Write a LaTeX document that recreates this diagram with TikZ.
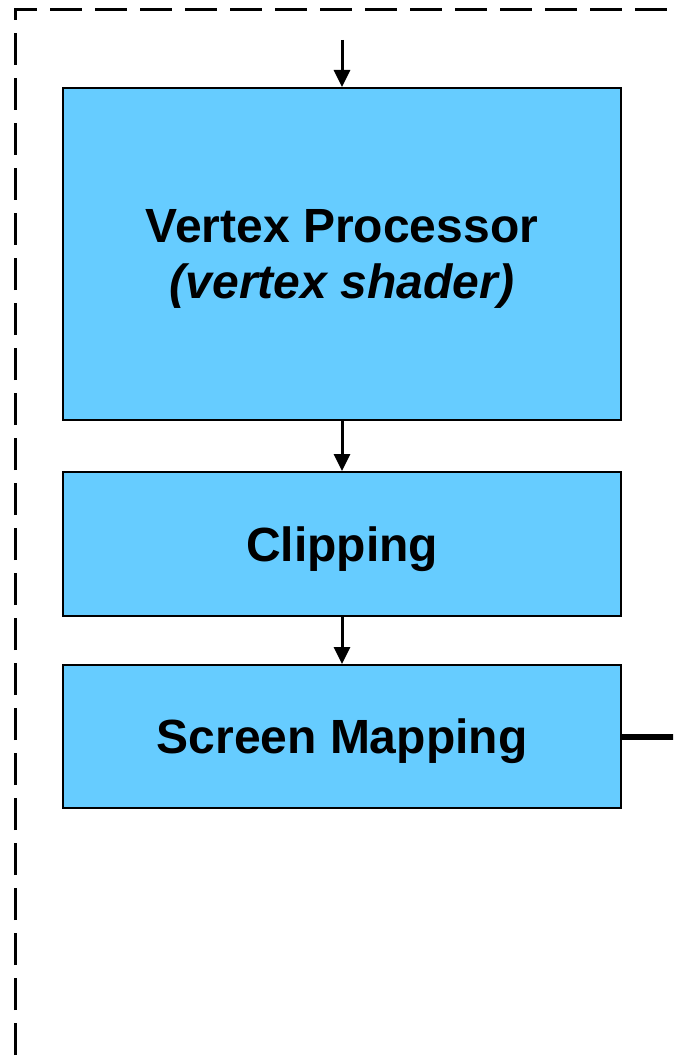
\documentclass[tikz,border=0pt]{standalone}
\usepackage{fontspec}
\setmainfont{Liberation Sans}
\usepackage{tikz}
\usetikzlibrary{arrows.meta}
\definecolor{stageBlue}{HTML}{66CCFF}

\begin{document}
\begin{tikzpicture}[x=1pt,y=-1pt]
            \tikzstyle{myStage}=[draw,line width=2pt,fill=stageBlue,inner sep=0pt,
                                 minimum width=558pt,align=center,text depth=0pt,
                                 font=\fontsize{48}{58}\selectfont\bfseries];
            \tikzstyle{myArr}=[line width=3pt,-{Triangle[length=17pt,width=16pt]}];
            \clip (0,0) rectangle (673,1064);
            \draw[line width=3pt,dash pattern=on 32pt off 13pt] (15,1100) -- (15,10) -- (700,10);
            \node[myStage,minimum height=332pt] (vp) at (342,254)
                 {Vertex Processor\\[-2pt]\itshape (vertex shader)};
            \node[myStage,minimum height=144pt] (clip) at (342,544) {Clipping};
            \node[myStage,minimum height=143pt] (sm) at (342,736.5) {Screen Mapping};
            \coordinate (in) at (342,40);
            \coordinate (out) at (680,736.5);
            \draw[myArr] (in) -- (vp);
            \draw[myArr] (vp) -- (clip);
            \draw[myArr] (clip) -- (sm);
            \draw[line width=6pt] (sm) -- (out);
         \end{tikzpicture}
\end{document}
